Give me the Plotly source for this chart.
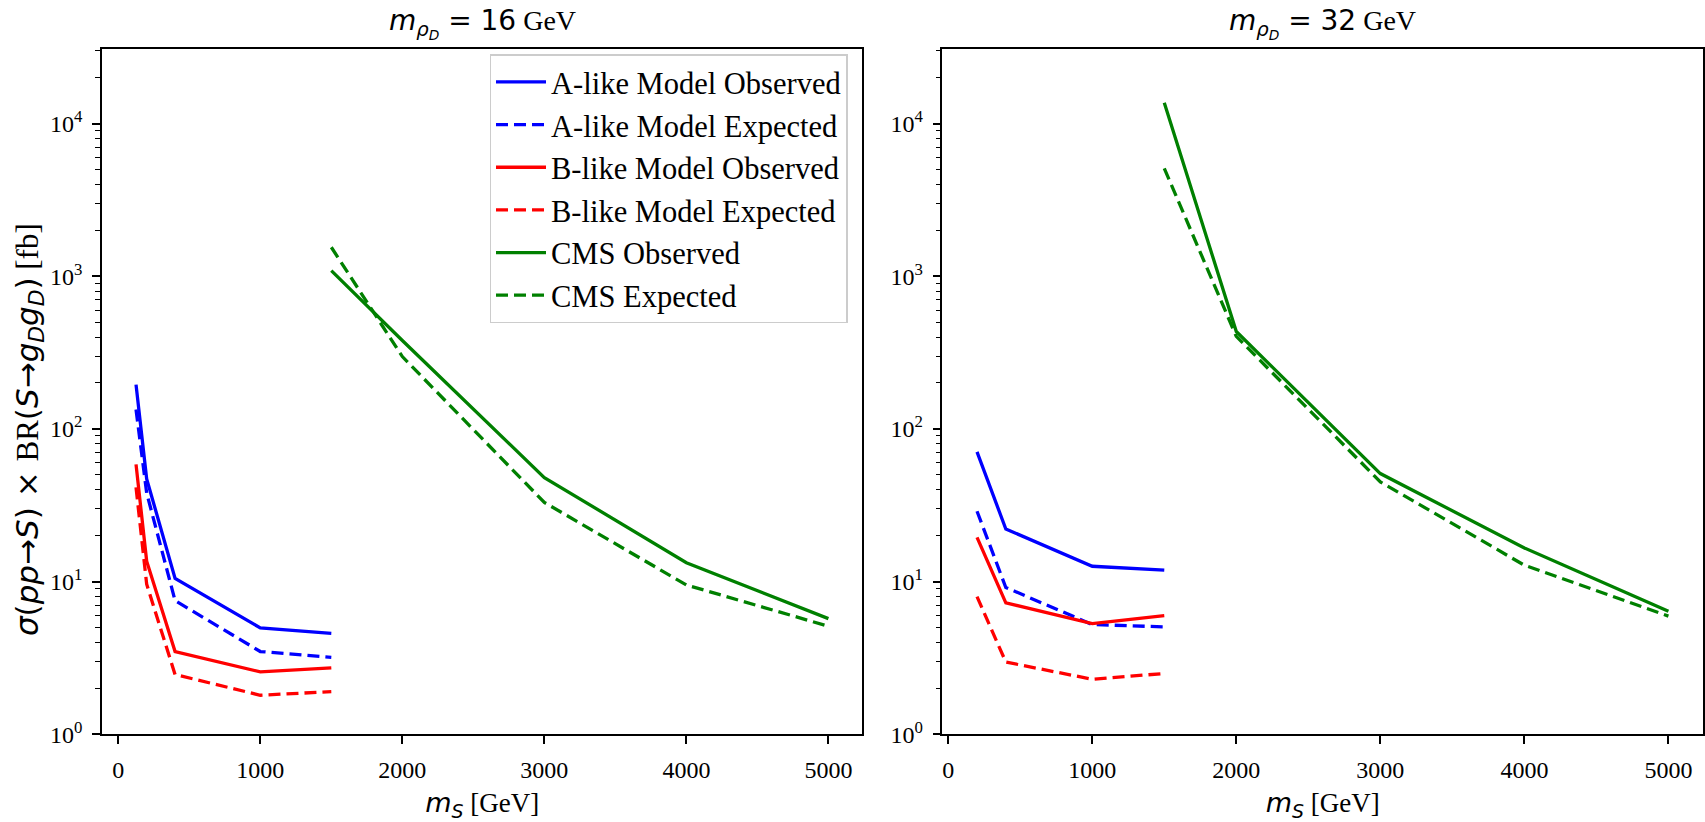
import plotly.graph_objects as go

# ---------------- data ----------------
ms_model_16 = [125, 200, 400, 1000, 1500]
a_obs_16 = [195, 47, 10.5, 4.97, 4.58]
a_exp_16 = [134, 38, 7.5, 3.48, 3.19]
b_obs_16 = [58.6, 13.6, 3.48, 2.56, 2.72]
b_exp_16 = [41.4, 9.6, 2.46, 1.80, 1.90]

ms_model_32 = [200, 400, 1000, 1500]
a_obs_32 = [70.7, 22.1, 12.6, 11.9]
a_exp_32 = [28.9, 9.15, 5.23, 5.05]
b_obs_32 = [19.5, 7.26, 5.31, 5.98]
b_exp_32 = [7.97, 2.97, 2.29, 2.50]

ms_cms = [1500, 2000, 3000, 4000, 5000]
cms_obs_16 = [1089, 380, 48, 13.3, 5.72]
cms_exp_16 = [1550, 298, 33, 9.5, 5.1]
cms_obs_32 = [13700, 435, 51, 16.6, 6.38]
cms_exp_32 = [5100, 404, 45, 12.8, 5.94]

series_names = ["A-like Model Observed", "A-like Model Expected",
                "B-like Model Observed", "B-like Model Expected",
                "CMS Observed", "CMS Expected"]
titles = ["16", "32"]
x_ticks = [0, 1000, 2000, 3000, 4000, 5000]
y_major = [1, 10, 100, 1000, 10000]
y_major_text = ["10<sup>0</sup>", "10<sup>1</sup>", "10<sup>2</sup>", "10<sup>3</sup>", "10<sup>4</sup>"]

# ---------------- style ----------------
SERIF = "Liberation Serif"
SANS = "DejaVu Sans"
BLUE, RED, GREEN = "#0000ff", "#ff0000", "#008000"
DASH = "12px,6px"
LW = 3.3

styles = [(BLUE, "solid"), (BLUE, DASH), (RED, "solid"), (RED, DASH),
          (GREEN, "solid"), (GREEN, DASH)]

W, H = 1705, 822
# pixel geometry of panels
L1, R1 = 102, 863
L2, R2 = 943, 1704
TOP, BOT = 50, 746

fig = go.Figure()

panels = [
    ("x", "y", [(ms_model_16, a_obs_16), (ms_model_16, a_exp_16), (ms_model_16, b_obs_16),
                (ms_model_16, b_exp_16), (ms_cms, cms_obs_16), (ms_cms, cms_exp_16)]),
    ("x2", "y2", [(ms_model_32, a_obs_32), (ms_model_32, a_exp_32), (ms_model_32, b_obs_32),
                  (ms_model_32, b_exp_32), (ms_cms, cms_obs_32), (ms_cms, cms_exp_32)]),
]

for pi, (xa, ya, data) in enumerate(panels):
    for si, (xs, ys) in enumerate(data):
        col, dash = styles[si]
        fig.add_trace(go.Scatter(
            x=xs, y=ys, mode="lines", xaxis=xa, yaxis=ya,
            name=series_names[si], showlegend=(pi == 0),
            line=dict(color=col, width=LW, dash=dash),
        ))

minor_vals = []
for d in [1, 10, 100, 1000, 10000]:
    for k in range(2, 10):
        minor_vals.append(d * k)

def xaxis_cfg(l, r):
    return dict(
        domain=[l / W, r / W], type="linear",
        tickvals=x_ticks, ticktext=[str(v) for v in x_ticks],
        ticks="outside", ticklen=8, tickwidth=1.5, tickcolor="black",
        showline=True, linecolor="black", linewidth=1.5, mirror=True,
        showgrid=False, zeroline=False, ticklabelstandoff=5,
        tickfont=dict(family=SERIF, size=24, color="black"),
        title=dict(text='<span style="font-family:DejaVu Sans"><i>m</i><sub><i>S</i></sub></span> [GeV]',
                   font=dict(family=SERIF, size=27, color="black"), standoff=12),
    )

def yaxis_cfg(anchor):
    return dict(
        domain=[(H - BOT) / H, (H - TOP) / H], type="log", range=[0, 4.488],
        anchor=anchor,
        tickvals=y_major, ticktext=y_major_text,
        ticks="outside", ticklen=8, tickwidth=1.5, tickcolor="black",
        minor=dict(tickvals=minor_vals, ticks="outside", ticklen=5, tickwidth=1.2, tickcolor="black", showgrid=False),
        showline=True, linecolor="black", linewidth=1.5, mirror=True,
        showgrid=False, zeroline=False, ticklabelstandoff=5,
        tickfont=dict(family=SERIF, size=24, color="black"),
    )

ylab = ('<span style="font-family:DejaVu Sans"><i>σ</i>(<i>pp</i>→<i>S</i>) × </span>BR'
        '<span style="font-family:DejaVu Sans">(<i>S</i>→<i>g</i><sub><i>D</i></sub><i>g</i><sub><i>D</i></sub>)</span> [fb]')

xa1 = xaxis_cfg(L1, R1); xa1["range"] = [-115, 5240]; xa1["anchor"] = "y"
xa2 = xaxis_cfg(L2, R2); xa2["range"] = [-40, 5240]; xa2["anchor"] = "y2"
ya1 = yaxis_cfg("x")
ya2 = yaxis_cfg("x2")

fig.update_layout(
    width=W, height=H,
    margin=dict(l=0, r=0, t=0, b=0),
    paper_bgcolor="white", plot_bgcolor="white",
    xaxis=xa1, xaxis2=xa2, yaxis=ya1, yaxis2=ya2,
    font=dict(family=SERIF, color="black"),
    legend=dict(
        x=848 / W, y=(H - 55) / H, xanchor="right", yanchor="top",
        bgcolor="rgba(255,255,255,0.8)", bordercolor="#cccccc", borderwidth=1.5,
        font=dict(family=SERIF, size=30.5, color="black"),
        itemwidth=50, tracegroupgap=0,
    ),
)

# y-axis title (placed like matplotlib's)
fig.add_annotation(
    xref="paper", yref="paper", x=29 / W, y=(H - 436) / H,
    xanchor="center", yanchor="middle", showarrow=False, textangle=-90,
    text=ylab, font=dict(family=SERIF, size=31, color="black"),
)

for i, (l, r) in enumerate([(L1, R1), (L2, R2)]):
    fig.add_annotation(
        xref="paper", yref="paper", x=(l + r) / 2 / W, y=(H - 24) / H,
        xanchor="center", yanchor="middle", showarrow=False,
        text=('<span style="font-family:DejaVu Sans"><i>m</i><sub><i>ρ</i><sub><i>D</i></sub></sub> = '
              + titles[i] + '</span> GeV'),
        font=dict(family=SERIF, size=28, color="black"),
    )

fig.write_html("out.html")
